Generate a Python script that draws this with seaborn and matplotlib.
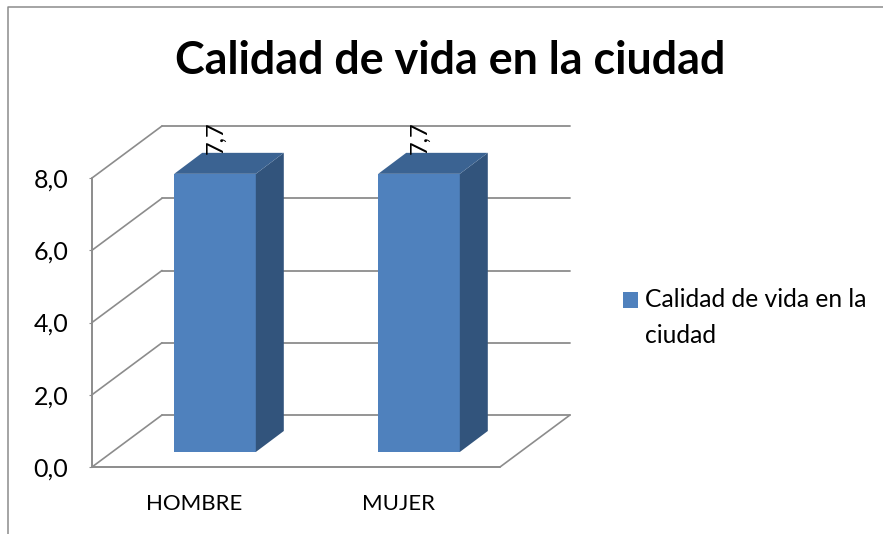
import matplotlib
matplotlib.use('Agg')
import matplotlib.pyplot as plt
import pandas as pd
import seaborn as sns
from matplotlib.lines import Line2D
from matplotlib.patches import Polygon
from matplotlib.transforms import Affine2D

categories = ['HOMBRE', 'MUJER']
values = [7.7, 7.7]
series_name = 'Calidad de vida en la ciudad'
y_ticks = [0, 2, 4, 6, 8]

W, H = 883, 534
FRONT = '#4F81BD'
SIDE = '#32547C'
TOP = '#3B6392'
GRID = '#8C8C8C'

sns.set_style('white')
plt.rcParams['font.family'] = ['Lato', 'DejaVu Sans']
plt.rcParams['text.color'] = 'black'
plt.rcParams['xtick.labelcolor'] = 'black'
plt.rcParams['ytick.labelcolor'] = 'black'

fig = plt.figure(figsize=(W / 100, H / 100), dpi=100)
# front plane of the fake 3d box, given in pixels
ax = fig.add_axes([92 / W, 1 - 467 / H, 408 / W, 289 / H])

df = pd.DataFrame({'categoria': categories, 'valor': values})
sns.barplot(data=df, x='categoria', y='valor', color=FRONT, width=0.4, saturation=1,
            linewidth=0, edgecolor='none',
            label='Calidad de vida en la\nciudad', ax=ax, zorder=3)
ax.set_xlim(-0.5, 1.5)
ax.set_ylim(0, 8)
ax.set_xlabel('')
ax.set_ylabel('')
sns.despine(ax=ax, top=True, right=True, left=True, bottom=True)

# walls and gridlines, offsets in pixels
wall_dx, wall_dy = 70, 52
wall = ax.transData + Affine2D().translate(wall_dx, wall_dy)
for t in y_ticks:
    ax.add_line(Line2D([-0.5, 1.5], [t, t], transform=wall, color=GRID, lw=1.3, clip_on=False, zorder=1))
    p0 = ax.transData.transform((-0.5, t))
    ax.add_line(Line2D([p0[0], p0[0] + wall_dx], [p0[1], p0[1] + wall_dy], transform=None,
                       color=GRID, lw=1.2, clip_on=False, zorder=1))
ax.add_line(Line2D([-0.5, -0.5], [0, 8], color=GRID, lw=1.4, clip_on=False, zorder=2))
ax.add_line(Line2D([-0.5, 1.5], [0, 0], color=GRID, lw=1.4, clip_on=False, zorder=2))
p1 = ax.transData.transform((1.5, 0))
ax.add_line(Line2D([p1[0], p1[0] + wall_dx], [p1[1], p1[1] + wall_dy], transform=None,
                   color=GRID, lw=1.2, clip_on=False, zorder=2))

# push bars back on the floor, then add side and top faces
shift_x, shift_y = 21, 15
depth_x, depth_y = 28, 21
shift = ax.transData + Affine2D().translate(shift_x, shift_y)
for bar, v in zip(ax.containers[0], values):
    bar.set_transform(shift)
    bar.set_clip_on(False)
    x0, x1 = bar.get_x(), bar.get_x() + bar.get_width()
    (ax0, ay0) = shift.transform((x0, 0))
    (ax1, ay1) = shift.transform((x1, v))
    side = [(ax1, ay0), (ax1 + depth_x, ay0 + depth_y), (ax1 + depth_x, ay1 + depth_y), (ax1, ay1)]
    top = [(ax0, ay1), (ax1, ay1), (ax1 + depth_x, ay1 + depth_y), (ax0 + depth_x, ay1 + depth_y)]
    ax.add_patch(Polygon(side, transform=None, facecolor=SIDE, edgecolor='none', clip_on=False, zorder=3))
    ax.add_patch(Polygon(top, transform=None, facecolor=TOP, edgecolor='none', clip_on=False, zorder=3))
    ax.annotate(f'{v:.1f}'.replace('.', ','), xy=((x0 + x1) / 2, v), xytext=(16, 25),
                textcoords='offset points', rotation=90, ha='center', va='bottom',
                fontsize=17, color='black', annotation_clip=False, zorder=4)

ax.set_yticks(y_ticks)
ax.set_yticklabels([f'{t:.1f}'.replace('.', ',') for t in y_ticks], fontsize=18)
ax.tick_params(axis='y', left=True, length=2, color=GRID, pad=15)
ax.tick_params(axis='x', bottom=False, labelsize=16, pad=16)

leg = ax.legend(loc='upper left', bbox_to_anchor=(623 / W, 1 - 288 / H), bbox_transform=fig.transFigure,
                frameon=False, fontsize=17.7, handlelength=0.62, handleheight=0.62, handletextpad=0.28,
                borderpad=0, borderaxespad=0, labelspacing=0)
leg.get_texts()[0].set_linespacing(1.68)
leg.legend_handles[0].set_y(14)

fig.text(450 / W, 1 - 61 / H, series_name, fontsize=32.3, fontweight='bold', ha='center', va='center')

# outer chart frame, only left and top are inside the crop
fig.add_artist(Line2D([8 / W, 8 / W, 1], [0, 1 - 7 / H, 1 - 7 / H], transform=fig.transFigure,
                      color=GRID, lw=1.1))

fig.savefig('out.png', dpi=100)
